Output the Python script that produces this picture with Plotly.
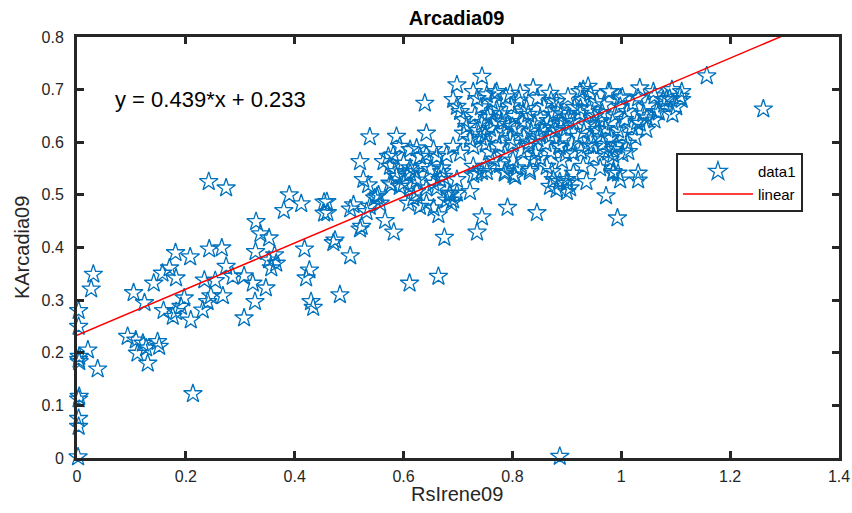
import plotly.graph_objects as go

# ---- data ----
axis_pts_x = [0.003, 0.003, 0.004, 0.004, 0.003, 0.004, 0.003, 0.003, 0.003, 0.002]
axis_pts_y = [0.280, 0.250, 0.193, 0.183, 0.187, 0.117, 0.112, 0.075, 0.060, 0.002]

sparse_pts = [
    (0.030,0.349),(0.026,0.321),(0.020,0.205),(0.038,0.169),(0.093,0.231),(0.108,0.224),(0.121,0.218),
    (0.111,0.199),(0.127,0.209),(0.130,0.180),(0.148,0.221),(0.151,0.212),(0.213,0.122),
    (0.104,0.314),(0.124,0.295),(0.141,0.332),(0.157,0.351),(0.170,0.361),(0.181,0.390),(0.208,0.382),
    (0.182,0.342),(0.197,0.304),(0.191,0.288),(0.159,0.280),(0.176,0.269),(0.182,0.278),(0.209,0.262),
    (0.231,0.281),(0.234,0.338),(0.254,0.337),(0.246,0.308),(0.240,0.297),(0.268,0.308),(0.242,0.525),
    (0.274,0.513),(0.243,0.397),(0.266,0.399),(0.274,0.364),(0.286,0.345),(0.307,0.346),(0.323,0.332),
    (0.327,0.297),(0.307,0.266),(0.347,0.323),(0.328,0.392),(0.329,0.449),(0.337,0.426),(0.353,0.418),
    (0.363,0.386),(0.353,0.376),(0.366,0.370),(0.357,0.361),(0.390,0.500),(0.412,0.483),(0.380,0.470),
    (0.418,0.397),(0.427,0.357),(0.421,0.342),(0.430,0.297),(0.434,0.286),(0.454,0.486),(0.454,0.465),
    (0.459,0.487),(0.460,0.466),(0.474,0.414),(0.471,0.409),(0.483,0.310),(0.502,0.384),(0.502,0.473),
    (0.508,0.481),(0.520,0.435),(0.523,0.440),(0.526,0.529),(0.535,0.519),(0.532,0.468),(0.538,0.478),
    (0.547,0.494),(0.554,0.500),(0.557,0.484),(0.566,0.451),(0.582,0.429),(0.611,0.332),(0.664,0.345),
    (0.664,0.462),(0.675,0.419),(0.735,0.429),(0.744,0.458),(0.791,0.476),(0.845,0.466),(0.887,0.003),
    (0.578,0.519),(0.587,0.535),(0.600,0.522),(0.612,0.541),(0.624,0.528),(0.609,0.484),(0.618,0.494),
    (0.630,0.478),(0.642,0.484),(0.655,0.475),(0.685,0.500),(0.691,0.490),(0.698,0.503),(0.688,0.484),
    (0.722,0.506),(0.698,0.529),(0.734,0.541),(0.753,0.544),(0.786,0.541),(0.805,0.535),(0.832,0.544),
    (0.872,0.544),(0.869,0.516),(0.881,0.510),(0.900,0.522),(0.900,0.506),(0.670,0.544),(0.906,0.513),
    (0.887,0.525),(0.936,0.525),(0.972,0.498),(0.993,0.456),(0.998,0.528),(1.031,0.528),
    (1.157,0.726),(1.261,0.663),(1.111,0.696),(1.111,0.681),(1.083,0.681),(1.093,0.700),(1.059,0.696),
    (1.034,0.703),(0.979,0.696),(1.031,0.541),(0.985,0.544),(0.994,0.541),(1.013,0.582),(0.985,0.576),
    (1.065,0.658),(1.047,0.646),(1.034,0.636),(1.077,0.681),
    (0.744,0.725),(0.698,0.709),(0.639,0.674),(0.642,0.617),(0.838,0.703),(0.869,0.693),(0.881,0.677),
    (0.924,0.696),(0.939,0.706),(0.976,0.696),(0.796,0.693),(0.768,0.693),(0.728,0.696),
    (0.538,0.610),(0.587,0.611),(0.593,0.592),(0.520,0.563),(0.572,0.573),(0.563,0.563),(0.581,0.576),
    (0.612,0.586),(0.624,0.589),(0.630,0.573),(0.642,0.576),(0.655,0.586),(0.661,0.573),(0.679,0.576),
    (0.691,0.592),(0.704,0.579),(0.600,0.560),(0.612,0.551),(0.606,0.538),(0.621,0.544),(0.636,0.554),
    (0.649,0.548),(0.670,0.551),(0.673,0.535),(0.575,0.554),(0.584,0.544),(0.575,0.522),(0.593,0.516),
    (0.612,0.516),(0.624,0.506),(0.642,0.513),(0.655,0.522),(0.667,0.529),(0.661,0.513),(0.685,0.503),
    (0.679,0.490),(0.551,0.497),
    (0.728,0.554),(0.744,0.544),(0.728,0.538),(0.753,0.554),(0.777,0.557),(0.786,0.544),(0.802,0.538),
    (0.808,0.551),(0.838,0.567),(0.832,0.548),(0.863,0.554),(0.875,0.529),(0.900,0.529),(0.912,0.541),
    (0.930,0.554),(0.949,0.573),(0.961,0.551),(0.985,0.541),(0.979,0.567),(0.887,0.592),(0.912,0.579),
    (0.949,0.592),(0.985,0.586),
    (0.753,0.690),(0.771,0.696),(0.814,0.693),(0.930,0.700),(0.943,0.693),(0.998,0.684),
    (0.691,0.681),(0.698,0.668),(0.704,0.658),(0.710,0.643),(0.716,0.630),(0.710,0.617),(0.722,0.605),
    (0.728,0.592),
]

core_pts = [
    (0.735,0.683),(0.762,0.678),(0.788,0.686),(0.812,0.680),(0.846,0.684),(0.871,0.679),(0.902,0.686),(0.928,0.681),(0.955,0.677),
    (0.742,0.667),(0.771,0.662),(0.798,0.669),(0.826,0.664),(0.858,0.668),(0.884,0.661),(0.914,0.666),(0.941,0.663),
    (0.731,0.651),(0.754,0.647),(0.779,0.654),(0.804,0.649),(0.829,0.653),(0.851,0.646),(0.876,0.652),(0.903,0.648),(0.924,0.655),(0.951,0.650),
    (0.744,0.637),(0.766,0.640),(0.791,0.634),(0.818,0.639),(0.841,0.635),(0.866,0.641),(0.889,0.636),(0.911,0.639),(0.936,0.633),
    (0.736,0.622),(0.759,0.626),(0.784,0.620),(0.809,0.625),(0.834,0.621),(0.857,0.627),(0.879,0.622),(0.899,0.626),(0.931,0.620),(0.956,0.624),
    (0.742,0.609),(0.769,0.612),(0.796,0.607),(0.821,0.611),(0.846,0.606),(0.869,0.612),(0.894,0.608),(0.921,0.611),(0.946,0.606),
    (0.751,0.596),(0.776,0.593),(0.801,0.598),(0.829,0.592),(0.861,0.597),(0.886,0.593),(0.909,0.597),(0.939,0.594),
    (0.757,0.581),(0.786,0.578),(0.816,0.583),(0.842,0.579),(0.871,0.582),(0.898,0.578),(0.926,0.583),
    (0.766,0.568),(0.801,0.566),(0.851,0.569),(0.891,0.565),
    (0.760,0.655),(0.820,0.657),(0.870,0.630),(0.800,0.630),(0.850,0.615),(0.780,0.640),(0.900,0.640),
    (0.830,0.600),(0.750,0.615),(0.890,0.655),(0.925,0.665),(0.950,0.635),
    (1.002,0.686),(1.031,0.684),(1.061,0.688),(1.089,0.683),(1.108,0.687),
    (0.968,0.671),(0.998,0.668),(1.021,0.673),(1.049,0.669),(1.079,0.672),(1.101,0.667),
    (0.965,0.656),(0.989,0.652),(1.011,0.658),(1.041,0.654),(1.069,0.657),(1.094,0.653),
    (0.961,0.641),(0.984,0.638),(1.006,0.643),(1.029,0.639),(1.061,0.642),
    (0.971,0.626),(0.994,0.623),(1.019,0.628),(1.046,0.624),
    (0.962,0.611),(0.981,0.608),(1.001,0.613),(1.026,0.609),
    (0.966,0.596),(0.991,0.593),(1.011,0.598),
    (0.976,0.581),(1.002,0.578),
]

x_data = axis_pts_x + [p[0] for p in sparse_pts] + [p[0] for p in core_pts]
y_data = axis_pts_y + [p[1] for p in sparse_pts] + [p[1] for p in core_pts]

fit_slope = 0.439
fit_intercept = 0.233
fit_x = [0.0, 1.4]
fit_y = [fit_slope * v + fit_intercept for v in fit_x]

x_ticks = [0, 0.2, 0.4, 0.6, 0.8, 1.0, 1.2, 1.4]
y_ticks = [0, 0.1, 0.2, 0.3, 0.4, 0.5, 0.6, 0.7, 0.8]

BLUE = "#0072BD"
AX = "#262626"
FONT = "Liberation Sans, Arial, sans-serif"

fig = go.Figure()
fig.add_trace(go.Scatter(
    x=x_data, y=y_data, mode="markers", name="data1",
    marker=dict(symbol="star-open", size=14, color=BLUE, line=dict(width=1.3, color=BLUE)),
    cliponaxis=False,
))
fig.add_trace(go.Scatter(
    x=fit_x, y=fit_y, mode="lines", name="linear",
    line=dict(color="red", width=1.5),
))

axis_common = dict(
    showgrid=False, zeroline=False, showline=True, linecolor=AX, linewidth=3,
    mirror="allticks", ticks="inside", ticklen=7, tickwidth=3, tickcolor=AX,
    tickfont=dict(family=FONT, size=16, color=AX), automargin=False,
)
fig.update_xaxes(range=[0, 1.4], tickvals=x_ticks, ticktext=[("%g" % v) for v in x_ticks],
                 ticklabelstandoff=2, **axis_common)
fig.update_yaxes(range=[0, 0.8], tickvals=y_ticks, ticktext=[("%g" % v) for v in y_ticks],
                 ticklabelstandoff=7, **axis_common)

fig.add_annotation(x=0.066, y=0.681, xref="x", yref="y", text="y = 0.439*x + 0.233",
                   showarrow=False, xanchor="left", yanchor="middle",
                   font=dict(family=FONT, size=22, color="black"))
fig.add_annotation(x=0.4987, y=-0.0855, xref="paper", yref="paper", text="RsIrene09",
                   showarrow=False, xanchor="center", yanchor="middle",
                   font=dict(family=FONT, size=20, color=AX))
fig.add_annotation(x=-0.0722, y=0.501, xref="paper", yref="paper", text="KArcadia09",
                   showarrow=False, xanchor="center", yanchor="middle", textangle=-90,
                   font=dict(family=FONT, size=20, color=AX))

fig.update_layout(
    width=852, height=513,
    margin=dict(l=77, r=13, t=37, b=55),
    paper_bgcolor="white", plot_bgcolor="white",
    title=dict(text="<b>Arcadia09</b>", x=0.536, xanchor="center", y=0.965, yanchor="middle",
               font=dict(family=FONT, size=20, color="black")),
    showlegend=True,
    legend=dict(x=0.786, y=0.724, xanchor="left", yanchor="top",
                bgcolor="white", bordercolor=AX, borderwidth=2,
                font=dict(family=FONT, size=15, color="black"),
                tracegroupgap=0, itemwidth=70),
    font=dict(family=FONT),
)

fig.write_html("out.html", config={"displayModeBar": False},
               post_script="document.body.style.margin='0px';document.body.style.overflow='hidden';")
